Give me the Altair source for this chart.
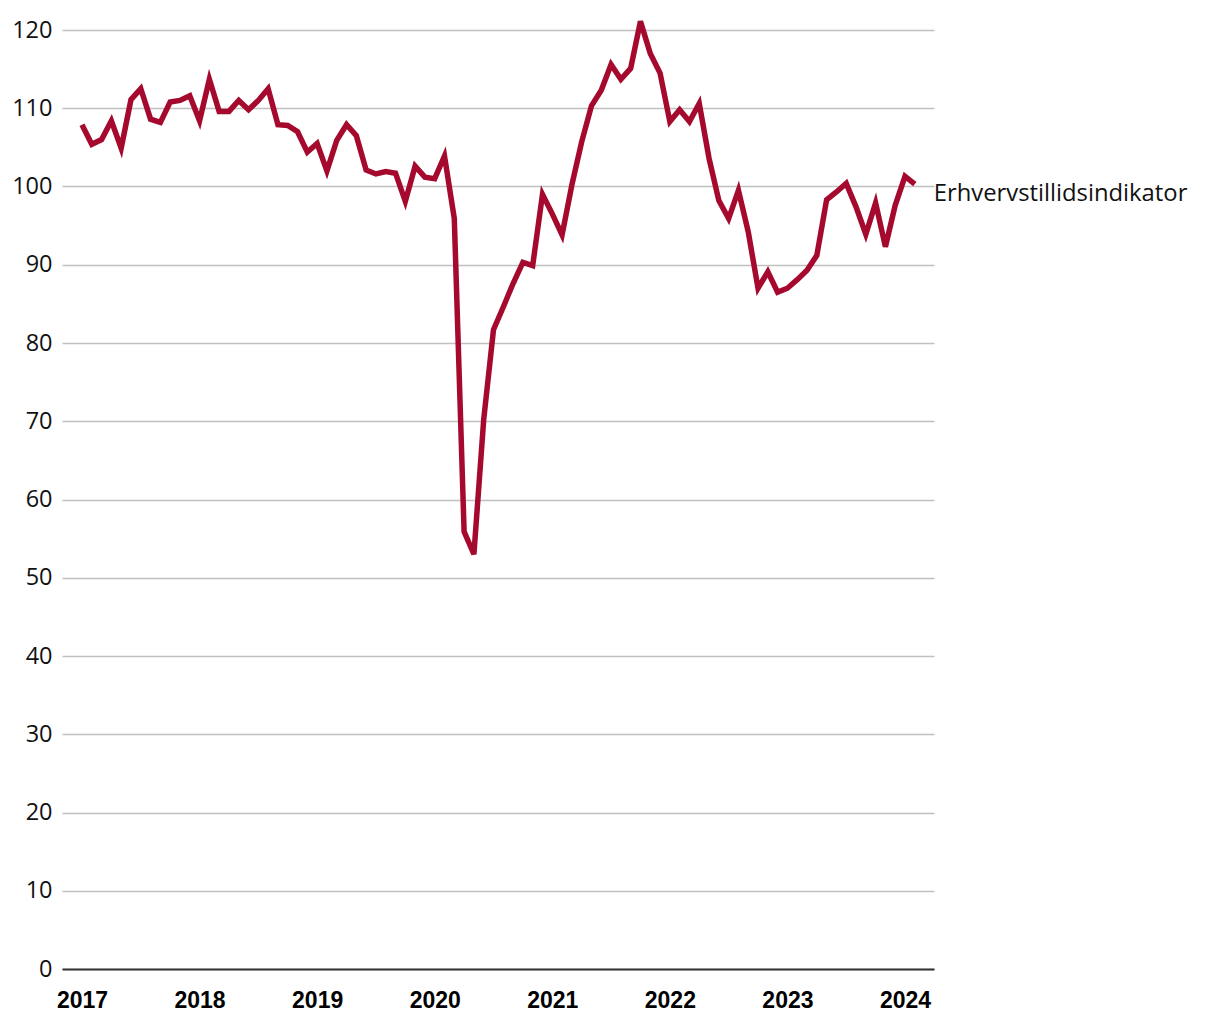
import altair as alt
import pandas as pd

# Monthly values, Jan 2017 - Feb 2024
y2017 = [107.9, 105.4, 106.0, 108.4, 104.9, 111.1, 112.5, 108.6, 108.2, 110.8, 111.0, 111.6]
y2018 = [108.4, 113.7, 109.6, 109.6, 111.0, 109.8, 111.0, 112.5, 107.9, 107.8, 107.0, 104.4]
y2019 = [105.5, 102.0, 105.9, 107.9, 106.5, 102.1, 101.6, 101.9, 101.7, 98.1, 102.6, 101.2]
y2020 = [101.0, 103.9, 95.9, 55.9, 53.0, 70.2, 81.7, 84.6, 87.6, 90.3, 89.9, 99.0]
y2021 = [96.5, 93.8, 100.2, 105.7, 110.3, 112.3, 115.6, 113.7, 115.1, 121.1, 117.0, 114.5]
y2022 = [108.3, 109.8, 108.3, 110.6, 103.6, 98.2, 95.9, 99.5, 94.2, 87.0, 89.1, 86.5]
y2023 = [87.0, 88.1, 89.3, 91.2, 98.3, 99.3, 100.4, 97.4, 93.9, 97.9, 92.3, 97.6]
y2024 = [101.3, 100.3]

series_name = "Erhvervstillidsindikator"
years = [2017, 2018, 2019, 2020, 2021, 2022, 2023, 2024]
y_ticks = [0, 10, 20, 30, 40, 50, 60, 70, 80, 90, 100, 110, 120]

values = y2017 + y2018 + y2019 + y2020 + y2021 + y2022 + y2023 + y2024
df = pd.DataFrame({"m": list(range(len(values))), "v": values})
last = df.tail(1).assign(label=series_name)

x_ticks = [(y - years[0]) * 12 for y in years]

xs = alt.Scale(domain=[-2.04, 86.96], nice=False, zero=False)
ys = alt.Scale(domain=[0, 120], nice=False)

line = alt.Chart(df).mark_line(color="#a50a2e", strokeWidth=5.5, strokeJoin="miter", clip=False).encode(
    x=alt.X("m:Q", scale=xs, title=None,
            axis=alt.Axis(values=x_ticks, labelExpr=f"{years[0]} + datum.value/12",
                          ticks=False, grid=False, domain=True, domainColor="#333333",
                          domainWidth=2, labelFont="Liberation Sans", labelFontWeight="bold",
                          labelFontSize=23, labelColor="#000000", labelPadding=20,
                          labelFlush=False)),
    y=alt.Y("v:Q", scale=ys, title=None,
            axis=alt.Axis(values=y_ticks, ticks=False, domain=False, grid=True,
                          gridColor="#c0c0c0", gridWidth=1.5, labelFont="Open Sans",
                          labelFontSize=23.5, labelColor="#111111", labelPadding=10)),
)

text = alt.Chart(last).mark_text(align="left", baseline="middle", dx=19, dy=10,
                                 font="Open Sans", fontSize=23.8, color="#111111").encode(
    x=alt.X("m:Q", scale=xs),
    y=alt.Y("v:Q", scale=ys),
    text="label:N",
)

chart = (line + text).properties(
    width=872, height=939,
    autosize=alt.AutoSizeParams(type="none"),
    padding={"left": 54, "top": 22, "right": 270, "bottom": 45},
).configure_view(stroke=None).configure_axisY(gridColor="#c0c0c0")

chart.save("out.html", embed_options={"renderer": "svg", "actions": False})
